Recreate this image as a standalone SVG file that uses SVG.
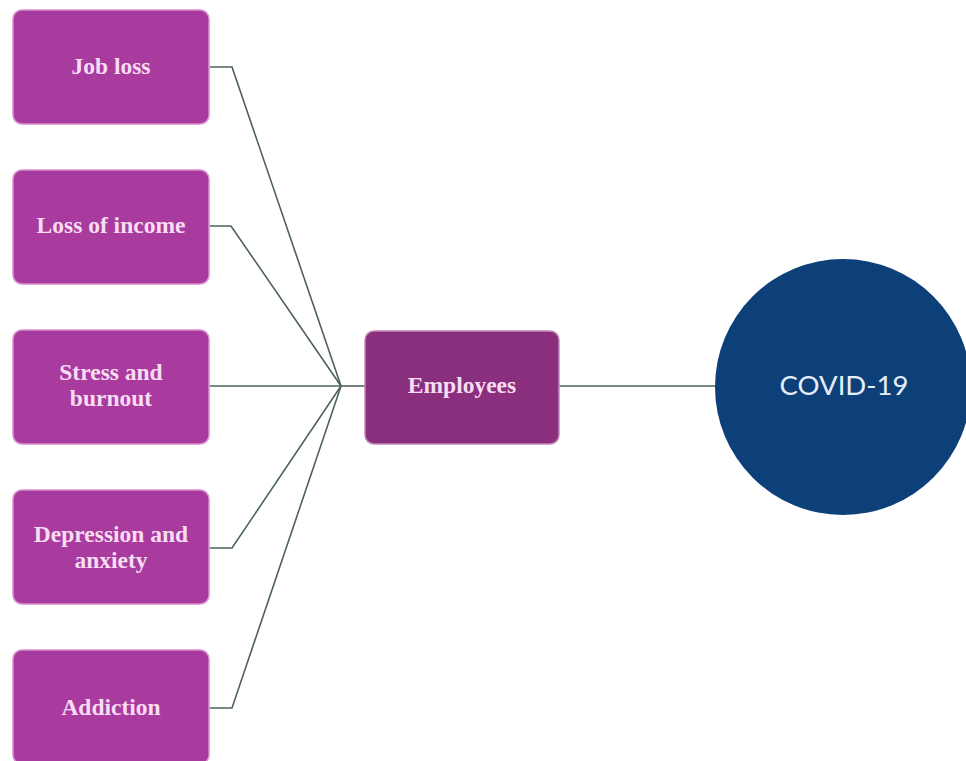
<svg xmlns="http://www.w3.org/2000/svg" width="966" height="761" viewBox="0 0 966 761">
  <style>
    .factor { fill: #A93B9F; stroke: #D98FD0; stroke-width: 1.5; }
    .hub { fill: #8A2E7E; stroke: #C488BB; stroke-width: 1.5; }
    .lbl { font-family: "Liberation Serif", "Times New Roman", serif; font-weight: bold; font-size: 23.5px; fill: #F7DDF2; text-anchor: middle; }
    .wire { fill: none; stroke: #4E625D; stroke-width: 1.6; }
    .covid { font-family: Lato, "Open Sans", sans-serif; font-size: 27.5px; fill: #E4EEF8; text-anchor: middle; }
  </style>
  <rect width="966" height="761" fill="#FFFFFF"/>

  <g id="connectors">
    <polyline class="wire" points="210,67 232,67 341,386"/>
    <polyline class="wire" points="210,226 231,226 341,386"/>
    <polyline class="wire" points="210,386 341,386"/>
    <polyline class="wire" points="210,548 232,548 341,386"/>
    <polyline class="wire" points="210,708 232,708 341,386"/>
    <line class="wire" x1="341" y1="386" x2="365" y2="386" stroke-width="3"/>
    <line class="wire" x1="559" y1="386" x2="716" y2="386"/>
  </g>

  <g id="job-loss">
    <rect class="factor" x="13" y="10" width="196" height="114" rx="9"/>
    <text class="lbl" x="111" y="74">Job loss</text>
  </g>
  <g id="loss-of-income">
    <rect class="factor" x="13" y="170" width="196" height="114" rx="9"/>
    <text class="lbl" x="111" y="233">Loss of income</text>
  </g>
  <g id="stress-and-burnout">
    <rect class="factor" x="13" y="330" width="196" height="114" rx="9"/>
    <text class="lbl" x="111" y="380">Stress and</text>
    <text class="lbl" x="111" y="406">burnout</text>
  </g>
  <g id="depression-and-anxiety">
    <rect class="factor" x="13" y="490" width="196" height="114" rx="9"/>
    <text class="lbl" x="111" y="542">Depression and</text>
    <text class="lbl" x="111" y="568">anxiety</text>
  </g>
  <g id="addiction">
    <rect class="factor" x="13" y="650" width="196" height="114" rx="9"/>
    <text class="lbl" x="111" y="715">Addiction</text>
  </g>

  <g id="employees">
    <rect class="hub" x="365" y="331" width="194" height="113" rx="9"/>
    <text class="lbl" x="462" y="393">Employees</text>
  </g>

  <g id="covid-19">
    <circle cx="843" cy="387" r="128" fill="#0D3F79"/>
    <text class="covid" x="844" y="395">COVID-19</text>
  </g>
</svg>
